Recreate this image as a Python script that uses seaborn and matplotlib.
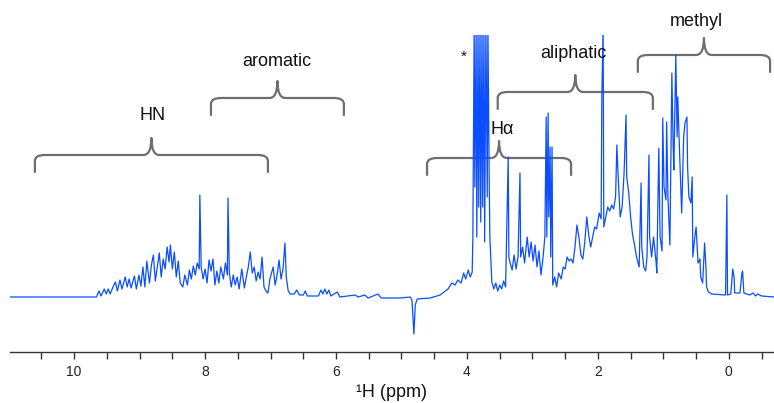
import matplotlib
matplotlib.use("Agg")
import matplotlib.pyplot as plt
from matplotlib.path import Path
from matplotlib.patches import PathPatch
import numpy as np
import pandas as pd
import seaborn as sns

# 1H spectrum: chemical shift (ppm) and intensity (arb.)
ppm = [
    10.98, 9.66, 9.62, 9.59, 9.54, 9.51, 9.48, 9.45, 9.40, 9.37, 9.34, 9.30, 9.27,
    9.22, 9.19, 9.16, 9.13, 9.08, 9.05, 9.01, 8.98, 8.95, 8.92, 8.89, 8.85, 8.82,
    8.79, 8.76, 8.73, 8.70, 8.67, 8.64, 8.61, 8.58, 8.55, 8.53, 8.50, 8.47, 8.44,
    8.41, 8.38, 8.34, 8.31, 8.27, 8.24, 8.21, 8.18, 8.15, 8.12, 8.09, 8.08, 8.06,
    8.03, 8.00, 7.97, 7.94, 7.91, 7.88, 7.85, 7.82, 7.79, 7.76, 7.72, 7.69, 7.66,
    7.65, 7.63, 7.60, 7.57, 7.54, 7.51, 7.48, 7.44, 7.40, 7.37, 7.34, 7.31, 7.28,
    7.25, 7.22, 7.19, 7.16, 7.13, 7.10, 7.07, 7.04, 7.01, 6.96, 6.93, 6.90, 6.87,
    6.84, 6.81, 6.78, 6.76, 6.73, 6.70, 6.64, 6.60, 6.56, 6.50, 6.47, 6.44,
    6.27, 6.23, 6.20, 6.17, 6.14, 6.11, 6.08, 5.98, 5.94, 5.71, 5.66, 5.56, 5.51,
    5.36, 5.31, 5.02, 4.87, 4.84, 4.81, 4.79, 4.76, 4.56, 4.41, 4.29, 4.23, 4.18,
    4.14, 4.09, 4.05, 4.02, 3.98, 3.95, 3.92, 3.91, 3.89, 3.88, 3.86, 3.85, 3.83,
    3.82, 3.80, 3.79, 3.77, 3.76, 3.74, 3.73, 3.71, 3.69, 3.68, 3.66, 3.65, 3.62,
    3.59, 3.56, 3.53, 3.50, 3.47, 3.44, 3.41, 3.37, 3.36, 3.34, 3.31, 3.28, 3.25,
    3.22, 3.19, 3.18, 3.15, 3.12, 3.08, 3.05, 3.02, 2.99, 2.96, 2.93, 2.90, 2.87,
    2.84, 2.81, 2.79, 2.78, 2.76, 2.75, 2.73, 2.72, 2.70, 2.69, 2.66, 2.63, 2.60,
    2.56, 2.53, 2.50, 2.47, 2.44, 2.41, 2.38, 2.35, 2.32, 2.29, 2.26, 2.23, 2.20,
    2.17, 2.14, 2.11, 2.08, 2.05, 2.02, 1.98, 1.95, 1.94, 1.92, 1.91, 1.88, 1.85,
    1.82, 1.79, 1.76, 1.73, 1.71, 1.69, 1.66, 1.63, 1.60, 1.57, 1.56, 1.53, 1.50,
    1.47, 1.44, 1.41, 1.37, 1.34, 1.33, 1.30, 1.27, 1.25, 1.22, 1.21, 1.18, 1.15,
    1.11, 1.10, 1.07, 1.05, 1.02, 1.01, 0.99, 0.96, 0.95, 0.93, 0.90, 0.87, 0.85,
    0.84, 0.81, 0.79, 0.78, 0.75, 0.72, 0.69, 0.67, 0.64, 0.63, 0.61, 0.58, 0.56,
    0.55, 0.52, 0.50, 0.47, 0.44, 0.43, 0.40, 0.37, 0.35, 0.34, 0.31, 0.26, 0.05,
    0.03, 0.02, -0.03, -0.06, -0.08, -0.09, -0.17, -0.20, -0.21, -0.23, -0.32,
    -0.37, -0.41, -0.44, -0.50, -0.69,
]
intensity = [
    0, 0, 6, 1, 8, 3, 8, 3, 11, 15, 6, 17, 8,
    20, 10, 18, 9, 21, 8, 22, 11, 30, 10, 36, 14, 32,
    42, 16, 30, 44, 20, 38, 28, 50, 35, 52, 28, 45, 20,
    36, 14, 10, 22, 12, 27, 18, 31, 22, 34, 28, 102, 30,
    18, 28, 14, 37, 26, 38, 12, 26, 14, 30, 18, 34, 22,
    99, 24, 10, 22, 12, 20, 8, 28, 9, 20, 30, 45, 24,
    30, 16, 25, 18, 40, 10, 6, 4, 18, 30, 12, 22, 37,
    18, 28, 54, 20, 6, 3, 3, 7, 2, 2, 6, 1,
    1, 7, 3, 8, 3, 7, 1, 5, 0, 2, 0, 2, -1,
    3, -1, -1, 0, -3, -37, -8, -2, -1, 2, 8, 14, 12,
    17, 14, 24, 18, 27, 20, 25, 60, 270, 110, 270, 60, 270,
    90, 270, 75, 270, 90, 270, 55, 270, 100, 270, 115, 60, 15,
    8, 14, 6, 12, 8, 16, 10, 140, 40, 34, 27, 42, 28,
    40, 124, 40, 50, 34, 60, 40, 55, 36, 52, 30, 46, 22,
    38, 60, 180, 60, 184, 80, 150, 40, 150, 12, 20, 10, 24,
    18, 30, 28, 40, 36, 38, 34, 50, 72, 60, 42, 38, 55,
    80, 62, 50, 60, 70, 68, 84, 78, 200, 270, 70, 80, 90,
    86, 92, 88, 100, 152, 120, 80, 90, 124, 182, 120, 105, 80,
    62, 52, 40, 30, 114, 50, 30, 26, 40, 142, 60, 40, 60,
    34, 24, 149, 60, 46, 179, 110, 97, 175, 100, 52, 224, 150,
    127, 242, 160, 200, 140, 84, 160, 174, 180, 130, 100, 94, 120,
    40, 60, 70, 34, 38, 20, 14, 54, 30, 10, 5, 3, 2,
    102, 2, 3, 28, 20, 4, 4, 24, 26, 4, 2,
    4, 1, 3, 1, 0,
]

# region brackets: label, left edge, right edge (ppm), bracket level, label spot
regions = ["HN", "aromatic", "Hα", "aliphatic", "methyl"]
region_left = [10.60, 7.91, 4.61, 3.53, 1.39]
region_right = [7.04, 5.88, 2.41, 1.16, -0.63]
region_level = [142, 199, 139, 205, 242]
label_ppm = [8.81, 6.90, 3.46, 2.37, 0.50]
label_level = [182, 236, 167, 244, 276]

spec = pd.DataFrame({"ppm": ppm, "intensity": intensity})

sns.set_style("white")
plt.rcParams["font.family"] = ["Liberation Sans", "DejaVu Sans"]

fig = plt.figure(figsize=(7.74, 4.03), dpi=100)
ax = fig.add_axes([10 / 774, 1 - 352 / 403, 764 / 774, 317 / 403])

sns.lineplot(data=spec, x="ppm", y="intensity", ax=ax, color="#0a4eff",
             linewidth=0.9, sort=False, estimator=None)

ax.set_xlim(10.98, -0.69)
ax.set_ylim(-55, 262)

# curly braces over each region
gray = "#6e6e6e"
s = 1 / 65.5  # ppm per pixel
for a, b, y in zip(region_left, region_right, region_level):
    c = (a + b) / 2
    h = 17
    verts = [(a, y - h), (a, y - 6), (a, y), (a - 10 * s, y),
             (c + 8 * s, y), (c, y), (c, y + h),
             (c, y), (c - 8 * s, y),
             (b + 10 * s, y), (b, y), (b, y - 6), (b, y - h)]
    codes = [Path.MOVETO, Path.LINETO, Path.CURVE3, Path.CURVE3,
             Path.LINETO, Path.CURVE3, Path.CURVE3,
             Path.CURVE3, Path.CURVE3,
             Path.LINETO, Path.CURVE3, Path.CURVE3, Path.LINETO]
    ax.add_patch(PathPatch(Path(verts, codes), facecolor="none", edgecolor=gray,
                           lw=1.6, clip_on=False, capstyle="round", joinstyle="round"))

for name, xl, yl in zip(regions, label_ppm, label_level):
    ax.text(xl, yl, name, ha="center", va="center", fontsize=13, color="#111111")

ax.text(4.05, 240, "*", ha="center", va="center", fontsize=11, color="#111111")

sns.despine(ax=ax, left=True)
ax.spines["bottom"].set_color("#333333")
ax.spines["bottom"].set_linewidth(1.0)
ax.set_yticks([])

tick_pos = np.arange(-0.5, 10.51, 0.5)
ax.set_xticks(tick_pos)
ax.set_xticklabels([str(int(t)) if t % 2 == 0 else "" for t in tick_pos])
ax.tick_params(axis="x", direction="out", length=5, width=1, color="#333333",
               labelsize=10, labelcolor="#222222", pad=4, bottom=True)
ax.set_xlabel("¹H (ppm)", fontsize=13, color="#111111", labelpad=4)
ax.set_ylabel("")

fig.savefig("out.png", dpi=100)
